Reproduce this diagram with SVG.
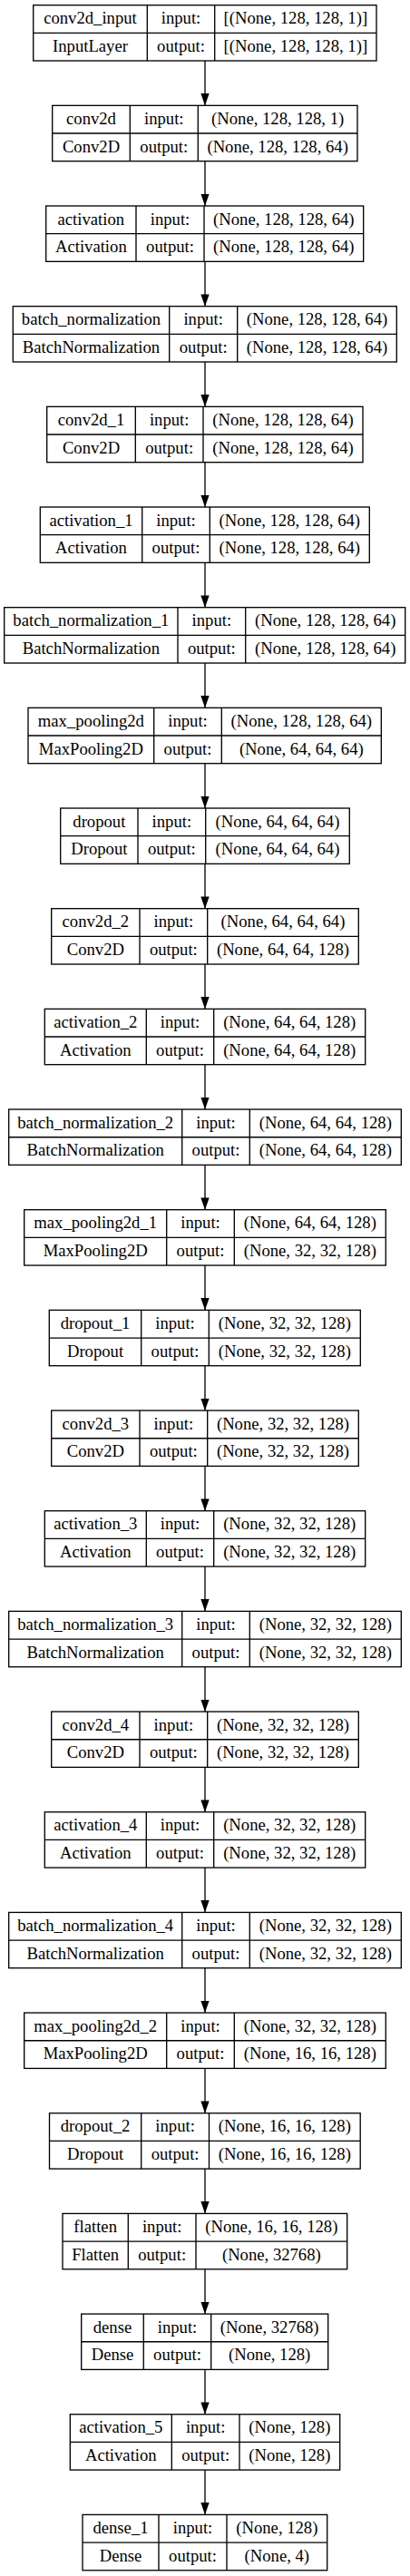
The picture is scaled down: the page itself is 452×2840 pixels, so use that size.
<svg xmlns="http://www.w3.org/2000/svg" width="452" height="2840" viewBox="0 0 452 2840">
<defs>
<style>
.node rect{fill:#fff;stroke:#000;stroke-width:1.33}
.node path{fill:none;stroke:#000;stroke-width:1.33}
.node text{font-family:"Liberation Serif","Times New Roman",serif;font-size:18.67px;text-anchor:middle;fill:#000}
#edges line{stroke:#000;stroke-width:1.33}
</style>
<marker id="arr" viewBox="0 0 13.3 9.33" refX="13.3" refY="4.665" markerWidth="13.3" markerHeight="9.33" markerUnits="userSpaceOnUse" orient="auto">
<path d="M0,0L13.3,4.665L0,9.33Z" fill="#000"/>
</marker>
</defs>
<rect width="452" height="2840" fill="#fff"/>
<g id="edges">
<line x1="226" y1="67" x2="226" y2="116.34" marker-end="url(#arr)"/>
<line x1="226" y1="177.67" x2="226" y2="227.01" marker-end="url(#arr)"/>
<line x1="226" y1="288.34" x2="226" y2="337.68" marker-end="url(#arr)"/>
<line x1="226" y1="399.01" x2="226" y2="448.35" marker-end="url(#arr)"/>
<line x1="226" y1="509.68" x2="226" y2="559.02" marker-end="url(#arr)"/>
<line x1="226" y1="620.35" x2="226" y2="669.69" marker-end="url(#arr)"/>
<line x1="226" y1="731.02" x2="226" y2="780.36" marker-end="url(#arr)"/>
<line x1="226" y1="841.69" x2="226" y2="891.03" marker-end="url(#arr)"/>
<line x1="226" y1="952.36" x2="226" y2="1001.7" marker-end="url(#arr)"/>
<line x1="226" y1="1063.03" x2="226" y2="1112.37" marker-end="url(#arr)"/>
<line x1="226" y1="1173.7" x2="226" y2="1223.04" marker-end="url(#arr)"/>
<line x1="226" y1="1284.37" x2="226" y2="1333.71" marker-end="url(#arr)"/>
<line x1="226" y1="1395.04" x2="226" y2="1444.38" marker-end="url(#arr)"/>
<line x1="226" y1="1505.71" x2="226" y2="1555.05" marker-end="url(#arr)"/>
<line x1="226" y1="1616.38" x2="226" y2="1665.72" marker-end="url(#arr)"/>
<line x1="226" y1="1727.05" x2="226" y2="1776.39" marker-end="url(#arr)"/>
<line x1="226" y1="1837.72" x2="226" y2="1887.06" marker-end="url(#arr)"/>
<line x1="226" y1="1948.39" x2="226" y2="1997.73" marker-end="url(#arr)"/>
<line x1="226" y1="2059.06" x2="226" y2="2108.4" marker-end="url(#arr)"/>
<line x1="226" y1="2169.73" x2="226" y2="2219.07" marker-end="url(#arr)"/>
<line x1="226" y1="2280.4" x2="226" y2="2329.74" marker-end="url(#arr)"/>
<line x1="226" y1="2391.07" x2="226" y2="2440.41" marker-end="url(#arr)"/>
<line x1="226" y1="2501.74" x2="226" y2="2551.08" marker-end="url(#arr)"/>
<line x1="226" y1="2612.41" x2="226" y2="2661.75" marker-end="url(#arr)"/>
<line x1="226" y1="2723.08" x2="226" y2="2772.42" marker-end="url(#arr)"/>
</g>

<g id="conv2d_input" class="node" transform="translate(0,5.67)">
<rect x="36.7" y="0" width="378.3" height="61.33"/>
<path d="M36.7,30.67H415M162.3,0V61.33M236.7,0V61.33"/>
<text x="99.5" y="20.5">conv2d_input</text><text x="199.5" y="20.5">input:</text><text x="325.85" y="20.5">[(None, 128, 128, 1)]</text>
<text x="99.5" y="51.2">InputLayer</text><text x="199.5" y="51.2">output:</text><text x="325.85" y="51.2">[(None, 128, 128, 1)]</text>
</g>

<g id="conv2d" class="node" transform="translate(0,116.34)">
<rect x="57.7" y="0" width="336.3" height="61.33"/>
<path d="M57.7,30.67H394M143.3,0V61.33M218.3,0V61.33"/>
<text x="100.5" y="20.5">conv2d</text><text x="180.8" y="20.5">input:</text><text x="306.15" y="20.5">(None, 128, 128, 1)</text>
<text x="100.5" y="51.2">Conv2D</text><text x="180.8" y="51.2">output:</text><text x="306.15" y="51.2">(None, 128, 128, 64)</text>
</g>

<g id="activation" class="node" transform="translate(0,227.01)">
<rect x="50.7" y="0" width="350" height="61.33"/>
<path d="M50.7,30.67H400.7M150,0V61.33M225,0V61.33"/>
<text x="100.35" y="20.5">activation</text><text x="187.5" y="20.5">input:</text><text x="312.85" y="20.5">(None, 128, 128, 64)</text>
<text x="100.35" y="51.2">Activation</text><text x="187.5" y="51.2">output:</text><text x="312.85" y="51.2">(None, 128, 128, 64)</text>
</g>

<g id="batch_normalization" class="node" transform="translate(0,337.68)">
<rect x="14.3" y="0" width="423" height="61.33"/>
<path d="M14.3,30.67H437.3M186.7,0V61.33M261.7,0V61.33"/>
<text x="100.5" y="20.5">batch_normalization</text><text x="224.2" y="20.5">input:</text><text x="349.5" y="20.5">(None, 128, 128, 64)</text>
<text x="100.5" y="51.2">BatchNormalization</text><text x="224.2" y="51.2">output:</text><text x="349.5" y="51.2">(None, 128, 128, 64)</text>
</g>

<g id="conv2d_1" class="node" transform="translate(0,448.35)">
<rect x="51.7" y="0" width="348.3" height="61.33"/>
<path d="M51.7,30.67H400M149.3,0V61.33M224,0V61.33"/>
<text x="100.5" y="20.5">conv2d_1</text><text x="186.65" y="20.5">input:</text><text x="312" y="20.5">(None, 128, 128, 64)</text>
<text x="100.5" y="51.2">Conv2D</text><text x="186.65" y="51.2">output:</text><text x="312" y="51.2">(None, 128, 128, 64)</text>
</g>

<g id="activation_1" class="node" transform="translate(0,559.02)">
<rect x="44.3" y="0" width="363" height="61.33"/>
<path d="M44.3,30.67H407.3M156.7,0V61.33M231.3,0V61.33"/>
<text x="100.5" y="20.5">activation_1</text><text x="194" y="20.5">input:</text><text x="319.3" y="20.5">(None, 128, 128, 64)</text>
<text x="100.5" y="51.2">Activation</text><text x="194" y="51.2">output:</text><text x="319.3" y="51.2">(None, 128, 128, 64)</text>
</g>

<g id="batch_normalization_1" class="node" transform="translate(0,669.69)">
<rect x="4.7" y="0" width="442" height="61.33"/>
<path d="M4.7,30.67H446.7M196,0V61.33M270.7,0V61.33"/>
<text x="100.35" y="20.5">batch_normalization_1</text><text x="233.35" y="20.5">input:</text><text x="358.7" y="20.5">(None, 128, 128, 64)</text>
<text x="100.35" y="51.2">BatchNormalization</text><text x="233.35" y="51.2">output:</text><text x="358.7" y="51.2">(None, 128, 128, 64)</text>
</g>

<g id="max_pooling2d" class="node" transform="translate(0,780.36)">
<rect x="31" y="0" width="389.3" height="61.33"/>
<path d="M31,30.67H420.3M169.7,0V61.33M244.3,0V61.33"/>
<text x="100.35" y="20.5">max_pooling2d</text><text x="207" y="20.5">input:</text><text x="332.3" y="20.5">(None, 128, 128, 64)</text>
<text x="100.35" y="51.2">MaxPooling2D</text><text x="207" y="51.2">output:</text><text x="332.3" y="51.2">(None, 64, 64, 64)</text>
</g>

<g id="dropout" class="node" transform="translate(0,891.03)">
<rect x="66.7" y="0" width="318.6" height="61.33"/>
<path d="M66.7,30.67H385.3M152,0V61.33M226.7,0V61.33"/>
<text x="109.35" y="20.5">dropout</text><text x="189.35" y="20.5">input:</text><text x="306" y="20.5">(None, 64, 64, 64)</text>
<text x="109.35" y="51.2">Dropout</text><text x="189.35" y="51.2">output:</text><text x="306" y="51.2">(None, 64, 64, 64)</text>
</g>

<g id="conv2d_2" class="node" transform="translate(0,1001.7)">
<rect x="56.7" y="0" width="338.6" height="61.33"/>
<path d="M56.7,30.67H395.3M154,0V61.33M228.7,0V61.33"/>
<text x="105.35" y="20.5">conv2d_2</text><text x="191.35" y="20.5">input:</text><text x="312" y="20.5">(None, 64, 64, 64)</text>
<text x="105.35" y="51.2">Conv2D</text><text x="191.35" y="51.2">output:</text><text x="312" y="51.2">(None, 64, 64, 128)</text>
</g>

<g id="activation_2" class="node" transform="translate(0,1112.37)">
<rect x="49.3" y="0" width="353.4" height="61.33"/>
<path d="M49.3,30.67H402.7M161.3,0V61.33M235.7,0V61.33"/>
<text x="105.3" y="20.5">activation_2</text><text x="198.5" y="20.5">input:</text><text x="319.2" y="20.5">(None, 64, 64, 128)</text>
<text x="105.3" y="51.2">Activation</text><text x="198.5" y="51.2">output:</text><text x="319.2" y="51.2">(None, 64, 64, 128)</text>
</g>

<g id="batch_normalization_2" class="node" transform="translate(0,1223.04)">
<rect x="9.7" y="0" width="432.6" height="61.33"/>
<path d="M9.7,30.67H442.3M200.7,0V61.33M275.3,0V61.33"/>
<text x="105.2" y="20.5">batch_normalization_2</text><text x="238" y="20.5">input:</text><text x="358.8" y="20.5">(None, 64, 64, 128)</text>
<text x="105.2" y="51.2">BatchNormalization</text><text x="238" y="51.2">output:</text><text x="358.8" y="51.2">(None, 64, 64, 128)</text>
</g>

<g id="max_pooling2d_1" class="node" transform="translate(0,1333.71)">
<rect x="26.7" y="0" width="398.6" height="61.33"/>
<path d="M26.7,30.67H425.3M183.7,0V61.33M258.3,0V61.33"/>
<text x="105.2" y="20.5">max_pooling2d_1</text><text x="221" y="20.5">input:</text><text x="341.8" y="20.5">(None, 64, 64, 128)</text>
<text x="105.2" y="51.2">MaxPooling2D</text><text x="221" y="51.2">output:</text><text x="341.8" y="51.2">(None, 32, 32, 128)</text>
</g>

<g id="dropout_1" class="node" transform="translate(0,1444.38)">
<rect x="54.3" y="0" width="343" height="61.33"/>
<path d="M54.3,30.67H397.3M155.7,0V61.33M230.3,0V61.33"/>
<text x="105" y="20.5">dropout_1</text><text x="193" y="20.5">input:</text><text x="313.8" y="20.5">(None, 32, 32, 128)</text>
<text x="105" y="51.2">Dropout</text><text x="193" y="51.2">output:</text><text x="313.8" y="51.2">(None, 32, 32, 128)</text>
</g>

<g id="conv2d_3" class="node" transform="translate(0,1555.05)">
<rect x="56.7" y="0" width="338.6" height="61.33"/>
<path d="M56.7,30.67H395.3M154,0V61.33M228.7,0V61.33"/>
<text x="105.35" y="20.5">conv2d_3</text><text x="191.35" y="20.5">input:</text><text x="312" y="20.5">(None, 32, 32, 128)</text>
<text x="105.35" y="51.2">Conv2D</text><text x="191.35" y="51.2">output:</text><text x="312" y="51.2">(None, 32, 32, 128)</text>
</g>

<g id="activation_3" class="node" transform="translate(0,1665.72)">
<rect x="49.3" y="0" width="353.4" height="61.33"/>
<path d="M49.3,30.67H402.7M161.3,0V61.33M235.7,0V61.33"/>
<text x="105.3" y="20.5">activation_3</text><text x="198.5" y="20.5">input:</text><text x="319.2" y="20.5">(None, 32, 32, 128)</text>
<text x="105.3" y="51.2">Activation</text><text x="198.5" y="51.2">output:</text><text x="319.2" y="51.2">(None, 32, 32, 128)</text>
</g>

<g id="batch_normalization_3" class="node" transform="translate(0,1776.39)">
<rect x="9.7" y="0" width="432.6" height="61.33"/>
<path d="M9.7,30.67H442.3M200.7,0V61.33M275.3,0V61.33"/>
<text x="105.2" y="20.5">batch_normalization_3</text><text x="238" y="20.5">input:</text><text x="358.8" y="20.5">(None, 32, 32, 128)</text>
<text x="105.2" y="51.2">BatchNormalization</text><text x="238" y="51.2">output:</text><text x="358.8" y="51.2">(None, 32, 32, 128)</text>
</g>

<g id="conv2d_4" class="node" transform="translate(0,1887.06)">
<rect x="56.7" y="0" width="338.6" height="61.33"/>
<path d="M56.7,30.67H395.3M154,0V61.33M228.7,0V61.33"/>
<text x="105.35" y="20.5">conv2d_4</text><text x="191.35" y="20.5">input:</text><text x="312" y="20.5">(None, 32, 32, 128)</text>
<text x="105.35" y="51.2">Conv2D</text><text x="191.35" y="51.2">output:</text><text x="312" y="51.2">(None, 32, 32, 128)</text>
</g>

<g id="activation_4" class="node" transform="translate(0,1997.73)">
<rect x="49.3" y="0" width="353.4" height="61.33"/>
<path d="M49.3,30.67H402.7M161.3,0V61.33M235.7,0V61.33"/>
<text x="105.3" y="20.5">activation_4</text><text x="198.5" y="20.5">input:</text><text x="319.2" y="20.5">(None, 32, 32, 128)</text>
<text x="105.3" y="51.2">Activation</text><text x="198.5" y="51.2">output:</text><text x="319.2" y="51.2">(None, 32, 32, 128)</text>
</g>

<g id="batch_normalization_4" class="node" transform="translate(0,2108.4)">
<rect x="9.7" y="0" width="432.6" height="61.33"/>
<path d="M9.7,30.67H442.3M200.7,0V61.33M275.3,0V61.33"/>
<text x="105.2" y="20.5">batch_normalization_4</text><text x="238" y="20.5">input:</text><text x="358.8" y="20.5">(None, 32, 32, 128)</text>
<text x="105.2" y="51.2">BatchNormalization</text><text x="238" y="51.2">output:</text><text x="358.8" y="51.2">(None, 32, 32, 128)</text>
</g>

<g id="max_pooling2d_2" class="node" transform="translate(0,2219.07)">
<rect x="26.7" y="0" width="398.6" height="61.33"/>
<path d="M26.7,30.67H425.3M183.7,0V61.33M258.3,0V61.33"/>
<text x="105.2" y="20.5">max_pooling2d_2</text><text x="221" y="20.5">input:</text><text x="341.8" y="20.5">(None, 32, 32, 128)</text>
<text x="105.2" y="51.2">MaxPooling2D</text><text x="221" y="51.2">output:</text><text x="341.8" y="51.2">(None, 16, 16, 128)</text>
</g>

<g id="dropout_2" class="node" transform="translate(0,2329.74)">
<rect x="54.5" y="0" width="342.7" height="61.33"/>
<path d="M54.5,30.67H397.2M155.7,0V61.33M230.5,0V61.33"/>
<text x="105.1" y="20.5">dropout_2</text><text x="193.1" y="20.5">input:</text><text x="313.85" y="20.5">(None, 16, 16, 128)</text>
<text x="105.1" y="51.2">Dropout</text><text x="193.1" y="51.2">output:</text><text x="313.85" y="51.2">(None, 16, 16, 128)</text>
</g>

<g id="flatten" class="node" transform="translate(0,2440.41)">
<rect x="69" y="0" width="313.7" height="61.33"/>
<path d="M69,30.67H382.7M141.3,0V61.33M216,0V61.33"/>
<text x="105.15" y="20.5">flatten</text><text x="178.65" y="20.5">input:</text><text x="299.35" y="20.5">(None, 16, 16, 128)</text>
<text x="105.15" y="51.2">Flatten</text><text x="178.65" y="51.2">output:</text><text x="299.35" y="51.2">(None, 32768)</text>
</g>

<g id="dense" class="node" transform="translate(0,2551.08)">
<rect x="89.7" y="0" width="272" height="61.33"/>
<path d="M89.7,30.67H361.7M158.3,0V61.33M232.7,0V61.33"/>
<text x="124" y="20.5">dense</text><text x="195.5" y="20.5">input:</text><text x="297.2" y="20.5">(None, 32768)</text>
<text x="124" y="51.2">Dense</text><text x="195.5" y="51.2">output:</text><text x="297.2" y="51.2">(None, 128)</text>
</g>

<g id="activation_5" class="node" transform="translate(0,2661.75)">
<rect x="77.3" y="0" width="297.4" height="61.33"/>
<path d="M77.3,30.67H374.7M189.3,0V61.33M264,0V61.33"/>
<text x="133.3" y="20.5">activation_5</text><text x="226.65" y="20.5">input:</text><text x="319.35" y="20.5">(None, 128)</text>
<text x="133.3" y="51.2">Activation</text><text x="226.65" y="51.2">output:</text><text x="319.35" y="51.2">(None, 128)</text>
</g>

<g id="dense_1" class="node" transform="translate(0,2772.42)">
<rect x="91" y="0" width="269.7" height="61.33"/>
<path d="M91,30.67H360.7M175,0V61.33M250,0V61.33"/>
<text x="133" y="20.5">dense_1</text><text x="212.5" y="20.5">input:</text><text x="305.35" y="20.5">(None, 128)</text>
<text x="133" y="51.2">Dense</text><text x="212.5" y="51.2">output:</text><text x="305.35" y="51.2">(None, 4)</text>
</g>
</svg>
